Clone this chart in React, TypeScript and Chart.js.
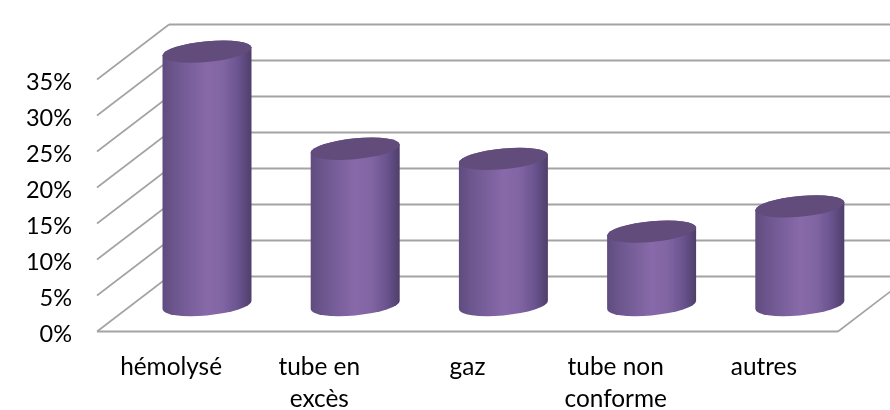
import React, { useEffect, useRef } from "react";
import { Chart, registerables } from "chart.js";

Chart.register(...registerables);

const categories: (string | string[])[] = ["hémolysé", ["tube en", "excès"], "gaz", ["tube non", "conforme"], "autres"];
const values = [35.2, 21.7, 20.3, 10.2, 13.7];
const yTicks = [0, 5, 10, 15, 20, 25, 30, 35];

const FONT = "Lato, sans-serif";
const DEPTH_X = 72;
const DEPTH_Y = 55;
const BAR_DX = 35.9;
const BAR_DY = 26.5;
const SHEAR = 4;
const MINOR = 10.4;
const GRID = "#a3a3a3";

const wallPlugin = {
  id: "wall3d",
  beforeDatasetsDraw(chart: any) {
    const { ctx, scales, chartArea } = chart;
    const y = scales.y;
    ctx.save();
    ctx.strokeStyle = GRID;
    yTicks.forEach((t) => {
      const py = y.getPixelForValue(t);
      ctx.lineWidth = 1.6;
      ctx.beginPath();
      ctx.moveTo(chartArea.left, py);
      ctx.lineTo(chartArea.left + DEPTH_X, py - DEPTH_Y);
      ctx.stroke();
      ctx.lineWidth = 2;
      ctx.beginPath();
      ctx.moveTo(chartArea.left + DEPTH_X, py - DEPTH_Y);
      ctx.lineTo(chartArea.right + DEPTH_X, py - DEPTH_Y);
      ctx.stroke();
    });
    const base = y.getPixelForValue(0);
    ctx.lineWidth = 2;
    ctx.beginPath();
    ctx.moveTo(chartArea.left, base);
    ctx.lineTo(chartArea.right, base);
    ctx.stroke();
    ctx.lineWidth = 1.6;
    ctx.beginPath();
    ctx.moveTo(chartArea.right, base);
    ctx.lineTo(chartArea.right + DEPTH_X, base - DEPTH_Y);
    ctx.stroke();
    ctx.restore();
  },
};

const cylinderPlugin = {
  id: "cylinder3d",
  afterDatasetsDraw(chart: any) {
    const { ctx } = chart;
    const bars = chart.getDatasetMeta(0).data;
    bars.forEach((bar: any) => {
      const a = bar.width / 2;
      const cx = bar.x + BAR_DX;
      const top = bar.y - BAR_DY;
      const bot = bar.base - BAR_DY;
      const s = SHEAR / a;
      ctx.save();
      ctx.beginPath();
      ctx.save();
      ctx.transform(1, -s, 0, 1, cx, bot);
      ctx.ellipse(0, 0, a, MINOR, 0, Math.PI, 0, true);
      ctx.restore();
      ctx.save();
      ctx.transform(1, -s, 0, 1, cx, top);
      ctx.ellipse(0, 0, a, MINOR, 0, 0, Math.PI, true);
      ctx.restore();
      ctx.closePath();
      const g = ctx.createLinearGradient(cx - a, 0, cx + a, 0);
      g.addColorStop(0, "#5f4c7e");
      g.addColorStop(0.12, "#6b558c");
      g.addColorStop(0.3, "#785f9a");
      g.addColorStop(0.5, "#8869a9");
      g.addColorStop(0.68, "#8165a3");
      g.addColorStop(0.85, "#6a5490");
      g.addColorStop(1, "#4f3f6a");
      ctx.fillStyle = g;
      ctx.fill();
      ctx.beginPath();
      ctx.transform(1, -s, 0, 1, cx, top);
      ctx.ellipse(0, 0, a, MINOR, 0, 0, Math.PI * 2);
      ctx.setTransform(1, 0, 0, 1, 0, 0);
      ctx.fillStyle = "#624c7c";
      ctx.fill();
      ctx.restore();
    });
  },
};

export default function App() {
  const ref = useRef<HTMLCanvasElement>(null);
  useEffect(() => {
    document.body.style.margin = "0";
    const chart = new Chart(ref.current!, {
      type: "bar",
      data: {
        labels: categories as any,
        datasets: [{ data: values, backgroundColor: "rgba(0,0,0,0)", barThickness: 89 }],
      },
      plugins: [wallPlugin, cylinderPlugin],
      options: {
        animation: false,
        responsive: false,
        devicePixelRatio: 1,
        layout: { padding: { top: 79.5, right: 52, left: 0, bottom: 0 } },
        plugins: { legend: { display: false }, tooltip: { enabled: false } },
        scales: {
          x: {
            grid: { display: false },
            border: { display: false },
            ticks: {
              color: "#000",
              padding: 12,
              maxRotation: 0,
              autoSkip: false,
              font: { family: FONT, size: 24.4, lineHeight: 1.31 },
            },
            afterFit: (s: any) => { s.height = 78.5; },
          },
          y: {
            min: 0,
            max: 35,
            grid: { display: false },
            border: { display: false },
            afterFit: (s: any) => { s.width = 97; },
            ticks: {
              color: "#000",
              stepSize: 5,
              padding: 17,
              labelOffset: 3,
              font: { family: FONT, size: 23.5 },
              callback: (v: any) => `${v}%`,
            },
          },
        },
      } as any,
    });
    return () => chart.destroy();
  }, []);
  return <canvas ref={ref} width={890} height={410} style={{ display: "block" }} />;
}
